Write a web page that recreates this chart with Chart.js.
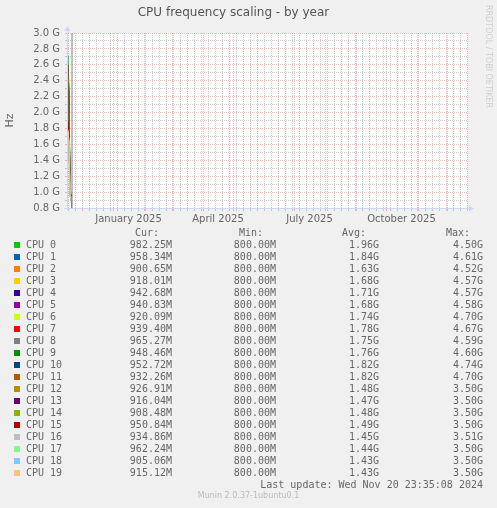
<!DOCTYPE html>
<html>
<head>
<meta charset="utf-8">
<script src="https://cdn.jsdelivr.net/npm/chart.js@4.4.0/dist/chart.umd.min.js"></script>
<style>
    html, body { margin: 0; padding: 0; background: #f0f0f0; }
    #wrap { position: relative; width: 497px; height: 508px; overflow: hidden; }
    #grafico { position: absolute; left: 0; top: 0; }
    .row { position: absolute; left: 0; width: 497px; height: 12px; line-height: 12px;
           font-family: "DejaVu Sans Mono", monospace; font-size: 10px; color: #666; white-space: pre; }
    .row span { position: absolute; top: 0; }
    .row .num { left: 0; text-align: right; }
    .row .sw { left: 14px; top: 3px; width: 6px; height: 6px; }
    #rrd { position: absolute; left: 484px; top: 5px; writing-mode: vertical-rl;
           font-family: "DejaVu Sans", sans-serif; font-size: 8px; color: #cfcfcf; }
    #munin { position: absolute; left: 0; width: 497px; top: 491px; text-align: center;
             font-family: "DejaVu Sans", sans-serif; font-size: 8px; color: #bbb; }
</style>
</head>
<body>
<div id="wrap">
    <canvas id="grafico" width="497" height="230"></canvas>
    <div id="rrd">RRDTOOL / TOBI OETIKER</div>
    <div id="legenda"></div>
    <div id="munin">Munin 2.0.37-1ubuntu0.1</div>
</div>
<script>
// days are counted from 1 Dec 2024
const DAY0 = Date.UTC(2024, 11, 1);
const dayOf = (y, m, d) => (Date.UTC(y, m, d) - DAY0) / 86400000;

const cpuNames = ['CPU 0', 'CPU 1', 'CPU 2', 'CPU 3', 'CPU 4', 'CPU 5', 'CPU 6', 'CPU 7', 'CPU 8', 'CPU 9',
    'CPU 10', 'CPU 11', 'CPU 12', 'CPU 13', 'CPU 14', 'CPU 15', 'CPU 16', 'CPU 17', 'CPU 18', 'CPU 19'];
const cpuColors = ['#00CC00', '#0066B3', '#FF8000', '#FFCC00', '#330099', '#990099', '#CCFF00', '#FF0000', '#808080', '#008F00',
    '#00487D', '#B35A00', '#B38F00', '#6B006B', '#8FB300', '#B30000', '#BEBEBE', '#80FF80', '#80C9FF', '#FFC080'];

// daily samples, 16..20 Nov 2024 (GHz)
const sampleDays = [-15, -14, -13, -12, -11];
const cpu0 = [2.55, 2.71, 2.30, 1.05, 0.982];
const cpu1 = [2.45, 2.52, 2.15, 1.02, 0.958];
const cpu2 = [2.35, 2.48, 2.05, 0.98, 0.901];
const cpu3 = [2.40, 2.50, 2.10, 0.99, 0.918];
const cpu4 = [2.30, 2.45, 2.00, 1.00, 0.943];
const cpu5 = [2.20, 2.30, 1.95, 1.00, 0.941];
const cpu6 = [2.35, 2.46, 2.05, 0.98, 0.920];
const cpu7 = [1.88, 1.90, 1.80, 0.99, 0.939];
const cpu8 = [2.40, 2.50, 2.10, 1.01, 0.965];
const cpu9 = [2.45, 2.60, 2.20, 1.02, 0.948];
const cpu10 = [2.45, 2.55, 2.15, 1.01, 0.953];
const cpu11 = [2.50, 2.58, 2.20, 1.00, 0.932];
const cpu12 = [1.80, 1.85, 1.70, 0.98, 0.927];
const cpu13 = [1.78, 1.82, 1.68, 0.97, 0.916];
const cpu14 = [1.80, 1.84, 1.70, 0.97, 0.908];
const cpu15 = [1.85, 1.90, 1.72, 1.00, 0.951];
const cpu16 = [1.72, 1.78, 1.62, 0.96, 0.935];
const cpu17 = [1.70, 1.76, 1.60, 0.98, 0.962];
const cpu18 = [1.68, 1.74, 1.60, 0.95, 0.905];
const cpu19 = [1.70, 1.75, 1.62, 0.96, 0.915];
const series = [cpu0, cpu1, cpu2, cpu3, cpu4, cpu5, cpu6, cpu7, cpu8, cpu9,
    cpu10, cpu11, cpu12, cpu13, cpu14, cpu15, cpu16, cpu17, cpu18, cpu19];

// the grey spike of CPU 8 on 21 Nov
const spikeDays = [-10, -10];
const cpu8Spike = [0.7, 3.1];

const curText = ['982.25M', '958.34M', '900.65M', '918.01M', '942.68M', '940.83M', '920.09M', '939.40M', '965.27M', '948.46M',
    '952.72M', '932.26M', '926.91M', '916.04M', '908.48M', '950.84M', '934.86M', '962.24M', '905.06M', '915.12M'];
const minText = Array(20).fill('800.00M');
const avgText = ['1.96G', '1.84G', '1.63G', '1.68G', '1.71G', '1.68G', '1.74G', '1.78G', '1.75G', '1.76G',
    '1.82G', '1.82G', '1.48G', '1.47G', '1.48G', '1.49G', '1.45G', '1.44G', '1.43G', '1.43G'];
const maxText = ['4.50G', '4.61G', '4.52G', '4.57G', '4.57G', '4.58G', '4.70G', '4.67G', '4.59G', '4.60G',
    '4.74G', '4.70G', '3.50G', '3.50G', '3.50G', '3.50G', '3.51G', '3.50G', '3.50G', '3.50G'];

const xTickLabels = ['January 2025', 'April 2025', 'July 2025', 'October 2025'];
const xLabelMonths = [1, 4, 7, 10]; // months after Dec 2024
const xMin = dayOf(2024, 10, 16);
const xMax = dayOf(2025, 11, 21);
const yMin = 0.8, yMax = 3.0;

// x ticks: weeks (grey), months (red), labels in mid month
const tickKind = new Map();
for (let d = dayOf(2024, 10, 17); d <= xMax; d += 7) tickKind.set(d, 'minor');
for (let k = 0; k <= 12; k++) {
    const d = dayOf(2024, 11 + k, 1);
    if (d >= xMin && d <= xMax) tickKind.set(d, 'major');
}
const labelAt = new Map();
xLabelMonths.forEach((k, i) => {
    const mid = (dayOf(2024, 11 + k, 1) + dayOf(2024, 12 + k, 1)) / 2;
    labelAt.set(mid, xTickLabels[i]);
    if (!tickKind.has(mid)) tickKind.set(mid, 'label');
});
const xTicks = [...tickKind.keys()].sort((a, b) => a - b);

const RED = 'rgba(240, 90, 90, 0.42)';
const GREY = 'rgba(140, 140, 140, 0.45)';
const xGrid = (c) => {
    const k = tickKind.get(c.tick && c.tick.value);
    return k === 'major' ? RED : k === 'minor' ? GREY : 'rgba(0,0,0,0)';
};
const yGrid = (c) => (c.tick && Math.round(c.tick.value * 10) % 2 === 0) ? RED : GREY;

const axisArrows = {
    id: 'axisArrows',
    afterDraw(chart) {
        const { ctx, chartArea: a } = chart;
        ctx.save();
        ctx.fillStyle = ctx.strokeStyle = '#CFD6F8';
        ctx.lineWidth = 1;
        ctx.beginPath();
        ctx.moveTo(a.left + 0.5, a.bottom + 2);
        ctx.lineTo(a.left + 0.5, a.top - 3);
        ctx.moveTo(a.left - 3, a.bottom + 0.5);
        ctx.lineTo(a.right + 3, a.bottom + 0.5);
        ctx.stroke();
        ctx.beginPath();
        ctx.moveTo(a.left - 2.5, a.top - 2);
        ctx.lineTo(a.left + 3.5, a.top - 2);
        ctx.lineTo(a.left + 0.5, a.top - 7);
        ctx.closePath();
        ctx.fill();
        ctx.beginPath();
        ctx.moveTo(a.right + 2, a.bottom - 2.5);
        ctx.lineTo(a.right + 2, a.bottom + 3.5);
        ctx.lineTo(a.right + 7, a.bottom + 0.5);
        ctx.closePath();
        ctx.fill();
        ctx.restore();
    }
};

const canvasBg = {
    id: 'canvasBg',
    beforeDraw(chart) {
        const { ctx, chartArea: a } = chart;
        ctx.save();
        ctx.fillStyle = '#ffffff';
        ctx.fillRect(a.left, a.top, a.right - a.left, a.bottom - a.top);
        ctx.restore();
    }
};

window.addEventListener('DOMContentLoaded', () => {
    Chart.defaults.font.family = 'DejaVu Sans';
    const ctx = document.getElementById('grafico').getContext('2d');

    const datasets = cpuNames.map((name, i) => {
        const data = sampleDays.map((d, j) => ({ x: d, y: series[i][j] }));
        if (i === 8) spikeDays.forEach((d, j) => data.push({ x: d, y: cpu8Spike[j] }));
        return {
            label: name,
            data: data,
            borderColor: cpuColors[i],
            borderWidth: 1,
            pointRadius: 0,
            tension: 0,
            fill: false,
            clip: 0,
            order: -i
        };
    });

    new Chart(ctx, {
        type: 'line',
        data: { datasets: datasets },
        plugins: [canvasBg, axisArrows],
        options: {
            responsive: false,
            animation: false,
            events: [],
            layout: { padding: { left: 0, right: 30, top: 0, bottom: 0 } },
            scales: {
                x: {
                    type: 'linear',
                    min: xMin,
                    max: xMax,
                    afterBuildTicks: (scale) => { scale.ticks = xTicks.map(v => ({ value: v })); },
                    afterFit: (scale) => { scale.height = 22; },
                    grid: { color: xGrid, tickColor: xGrid, tickLength: 3, lineWidth: 1 },
                    border: { color: '#CFD6F8', dash: [1, 1] },
                    ticks: {
                        autoSkip: false, maxRotation: 0, minRotation: 0, padding: 2,
                        color: '#666', font: { size: 10 },
                        callback: (v) => labelAt.get(v) || ''
                    }
                },
                y: {
                    min: yMin,
                    max: yMax,
                    afterFit: (scale) => { scale.width = 67; },
                    title: {
                        display: true, text: 'Hz', color: '#666',
                        font: { size: 11 }, padding: { top: 4, bottom: 0 }
                    },
                    grid: { color: yGrid, tickColor: yGrid, tickLength: 2, lineWidth: 1 },
                    border: { color: '#CFD6F8', dash: [1, 1] },
                    ticks: {
                        stepSize: 0.1, autoSkip: false, padding: 5,
                        color: '#666', font: { size: 10 },
                        callback: (v) => Math.round(v * 10) % 2 === 0 ? v.toFixed(1) + ' G' : ''
                    }
                }
            },
            plugins: {
                legend: { display: false },
                tooltip: { enabled: false },
                title: {
                    display: true,
                    text: 'CPU frequency scaling - by year',
                    color: '#555',
                    font: { size: 12, weight: 'normal', lineHeight: 1.2 },
                    padding: { top: 6, bottom: 12.6 }
                }
            }
        }
    });

    // legend table under the graph
    const box = document.getElementById('legenda');
    const col = (text, right) => '<span class="num" style="width:' + right + 'px">' + text + '</span>';
    let html = '<div class="row" style="top:227px">' +
        col('Cur:', 159) + col('Min:', 263) + col('Avg:', 366) + col('Max:', 470) + '</div>';
    cpuNames.forEach((name, i) => {
        html += '<div class="row" style="top:' + (239 + i * 12) + 'px">' +
            '<span class="sw" style="background:' + cpuColors[i] + '"></span>' +
            '<span style="left:26px">' + name + '</span>' +
            col(curText[i], 172) + col(minText[i], 276) + col(avgText[i], 379) + col(maxText[i], 483) +
            '</div>';
    });
    html += '<div class="row" style="top:479px">' + col('Last update: Wed Nov 20 23:35:08 2024', 483) + '</div>';
    box.innerHTML = html;
});
</script>
</body>
</html>
